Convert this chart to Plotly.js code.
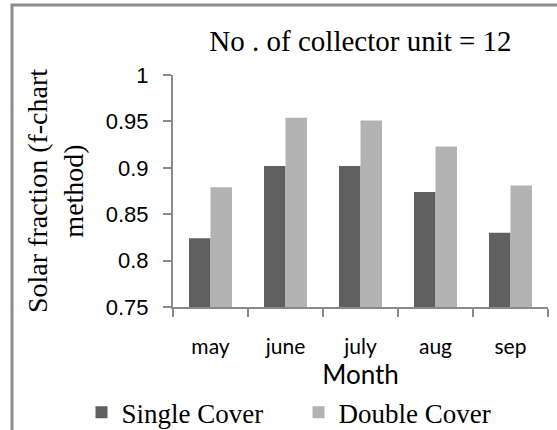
<!DOCTYPE html>
<html>
<head>
<meta charset="utf-8">
<script src="https://cdn.plot.ly/plotly-3.0.1.min.js"></script>
<style>
html,body{margin:0;padding:0;background:#fff;}
#chart{width:557px;height:430px;}
</style>
</head>
<body>
<div id="chart"></div>
<script>
var months = ['may', 'june', 'july', 'aug', 'sep'];
var singleCover = [0.824, 0.902, 0.902, 0.874, 0.830];
var doubleCover = [0.879, 0.954, 0.951, 0.923, 0.881];
var seriesNames = ['Single Cover', 'Double Cover'];
var titleText = 'No . of collector unit = 12';
var yTitle = 'Solar fraction (f-chart<br>method)';
var xTitle = 'Month';

var axisColor = '#8a8a8a';
var serif = 'Liberation Serif';
var sans = 'Liberation Sans';
var catFont = 'Lato';

var traces = [
  {type: 'bar', name: seriesNames[0], x: months, y: singleCover,
   marker: {color: '#606060'}},
  {type: 'bar', name: seriesNames[1], x: months, y: doubleCover,
   marker: {color: '#b3b3b3'}}
];

var layout = {
  width: 557, height: 430,
  margin: {l: 173, r: 9, t: 75, b: 123, autoexpand: false},
  paper_bgcolor: '#fff', plot_bgcolor: '#fff',
  barmode: 'group', bargap: 0.427, bargroupgap: 0,
  showlegend: true,
  title: {text: titleText, font: {family: serif, size: 29, color: '#000'},
          x: 0.5, xref: 'paper', xanchor: 'center', y: 0.904, yref: 'container', yanchor: 'middle'},
  xaxis: {
    type: 'category', tickson: 'boundaries',
    showline: true, linecolor: axisColor, linewidth: 2,
    ticks: 'outside', ticklen: 8, tickcolor: axisColor, tickwidth: 2,
    showgrid: false, zeroline: false,
    tickfont: {family: catFont, size: 21, color: '#000'},
    ticklabelstandoff: 20,
    title: {text: xTitle, font: {family: catFont, size: 26, color: '#000'}, standoff: 4}
  },
  yaxis: {
    range: [0.75, 1], dtick: 0.05, tick0: 0.75,
    showline: true, linecolor: axisColor, linewidth: 2,
    ticks: 'outside', ticklen: 8, tickcolor: axisColor, tickwidth: 2,
    showgrid: false, zeroline: false,
    tickfont: {family: sans, size: 22, color: '#000'},
    ticklabelstandoff: 10,
    title: {text: yTitle, font: {family: serif, size: 28, color: '#000'}, standoff: 14}
  },
  legend: {
    orientation: 'h', x: -0.244, xanchor: 'left', y: -0.35, yanchor: 'top',
    font: {family: serif, size: 27, color: '#000'},
    bgcolor: 'rgba(0,0,0,0)', entrywidth: 172, entrywidthmode: 'pixels'
  },
  shapes: [
    {type: 'rect', xref: 'paper', yref: 'paper',
     x0: (12 - 173) / 375, x1: (620 - 173) / 375,
     y0: (307 - 470) / 232, y1: (307 - 5) / 232,
     line: {color: '#8c8c8c', width: 3}, fillcolor: 'rgba(0,0,0,0)', layer: 'below'}
  ]
};

Plotly.newPlot('chart', traces, layout, {staticPlot: true, displayModeBar: false});
</script>
</body>
</html>
